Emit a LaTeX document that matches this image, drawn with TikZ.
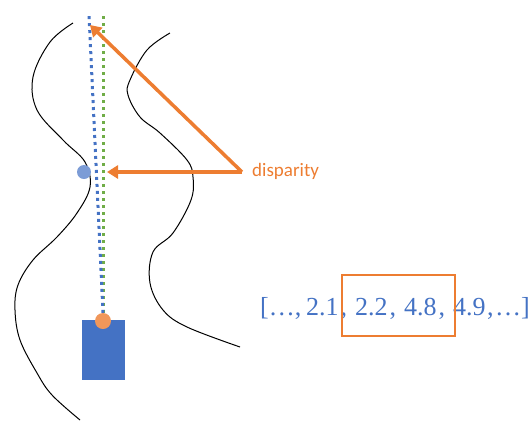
\documentclass[tikz,border=0pt]{standalone}
\usepackage{fontspec}
\setmainfont{Liberation Serif}
\newfontfamily\calfont{Carlito}
\usetikzlibrary{arrows.meta}
\definecolor{oblue}{HTML}{4472C4}
\definecolor{oorange}{HTML}{ED7D31}
\definecolor{ogreen}{HTML}{70AD47}
\tikzset{
  wall/.style={draw=black, line width=1pt, smooth, tension=0.6},
  dotline/.style={line width=3pt, dash pattern=on 3pt off 4pt},
  ray/.style={draw=oorange, line width=3.5pt, -{Triangle[length=11pt,width=13pt]}},
}
\begin{document}
\begin{tikzpicture}[x=1pt,y=-1pt]
\useasboundingbox (0,0) rectangle (531,424);
% walls
\draw[wall] plot coordinates {(73,23) (50,42) (33,77) (37,110) (63,140) (85,162) (90,187) (77,213) (57,237) (33,260) (18,285) (15,310) (20,340) (37,373) (52,395) (80,420)};
\draw[wall] plot coordinates {(170,33) (147,50) (130,80) (128,95) (140,117) (160,133) (187,160) (193,177) (191,200) (173,233) (153,252) (150,283) (163,310) (187,327) (240,347)};
% camera
\node[fill=oblue, minimum width=43pt, minimum height=60pt, inner sep=0pt, anchor=north west] (cam) at (82,320) {};
\node[circle, fill=oorange!80!white, minimum size=16pt, inner sep=0pt] (lens) at (103,321) {};
% dotted lines
\coordinate (gtop) at (103,12);
\coordinate (btop) at (89,15);
\draw[dotline, ogreen] (lens.north) -- (gtop);
\draw[dotline, oblue] (lens.north) -- (btop);
% blue point
\node[circle, fill=oblue!70!white, minimum size=14pt, inner sep=0pt] (pt) at (84,172) {};
% arrows
\coordinate (src) at (242,172);
\coordinate (tgt1) at (107,172);
\coordinate (tgt2) at (90,25);
\draw[ray] (src) -- (tgt1);
\draw[ray] (src) -- (tgt2);
\node[anchor=west, text=oorange, font=\calfont\fontsize{19}{22}\selectfont, inner sep=0pt] (disp) at (252,171) {disparity};
% list
\node[anchor=base west, text=oblue, font=\fontsize{26}{30}\selectfont, inner sep=0pt] (lst) at (260,315)
  {[…,\hspace{4.8pt}2.1\hspace{2pt},\hspace{8pt}2.2\hspace{2pt},\hspace{8pt}4.8\hspace{2pt},\hspace{8pt}4.9\hspace{1.5pt},\hspace{1.5pt}…]};
\node[draw=oorange, line width=2pt, minimum width=113pt, minimum height=61pt, anchor=north west, inner sep=0pt] (win) at (341,274) {};
\end{tikzpicture}
\end{document}
